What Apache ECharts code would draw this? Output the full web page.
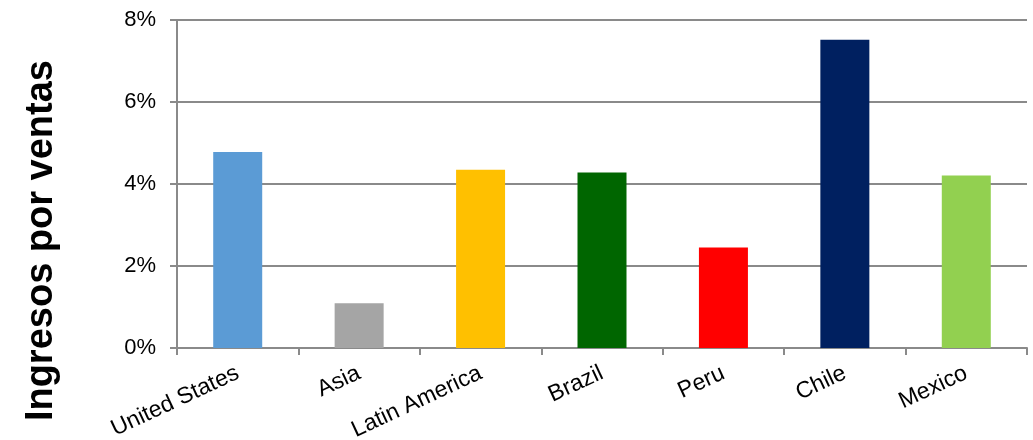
<!DOCTYPE html>
<html>
<head>
<meta charset="utf-8">
<script src="https://cdn.jsdelivr.net/npm/echarts@6/dist/echarts.min.js"></script>
<style>html,body{margin:0;padding:0;background:#fff;}#c{width:1033px;height:440px;}</style>
</head>
<body>
<div id="c"></div>
<script>
var categories = ['United States', 'Asia', 'Latin America', 'Brazil', 'Peru', 'Chile', 'Mexico'];
var values = [4.78, 1.09, 4.35, 4.28, 2.45, 7.52, 4.21];
var barColors = ['#5B9BD5', '#A5A5A5', '#FFC000', '#006600', '#FF0000', '#002060', '#92D050'];
var yTicks = [0, 2, 4, 6, 8];
var yTitle = 'Ingresos por ventas';

var chart = echarts.init(document.getElementById('c'));
chart.setOption({
  animation: false,
  backgroundColor: '#fff',
  grid: { left: 177, right: 6, top: 20, bottom: 92, containLabel: false, outerBoundsMode: 'none' },
  graphic: [{
    type: 'text',
    left: 23, top: 60,
    rotation: Math.PI / 2,
    style: { text: yTitle, font: 'bold 38px "Liberation Sans", Arial, sans-serif', fill: '#000' }
  }],
  xAxis: {
    type: 'category',
    data: categories,
    axisLine: { lineStyle: { color: '#8a8a8a', width: 2 } },
    axisTick: { show: true, alignWithLabel: false, length: 7, lineStyle: { color: '#8a8a8a', width: 2 } },
    axisLabel: { rotate: 25, fontSize: 23, color: '#000', fontFamily: '"Liberation Sans", Arial, sans-serif', margin: 24, interval: 0 }
  },
  yAxis: {
    type: 'value',
    min: yTicks[0], max: yTicks[yTicks.length - 1], interval: 2,
    axisLine: { show: true, lineStyle: { color: '#8a8a8a', width: 2 } },
    axisTick: { show: true, length: 7, lineStyle: { color: '#8a8a8a', width: 2 } },
    splitLine: { show: true, lineStyle: { color: '#8a8a8a', width: 2 } },
    axisLabel: { formatter: '{value}%', fontSize: 22, color: '#000', fontFamily: '"Liberation Sans", Arial, sans-serif', margin: 21 }
  },
  series: [{
    type: 'bar',
    data: values.map(function (v, i) { return { value: v, itemStyle: { color: barColors[i] } }; }),
    barWidth: 49
  }]
});
</script>
</body>
</html>
